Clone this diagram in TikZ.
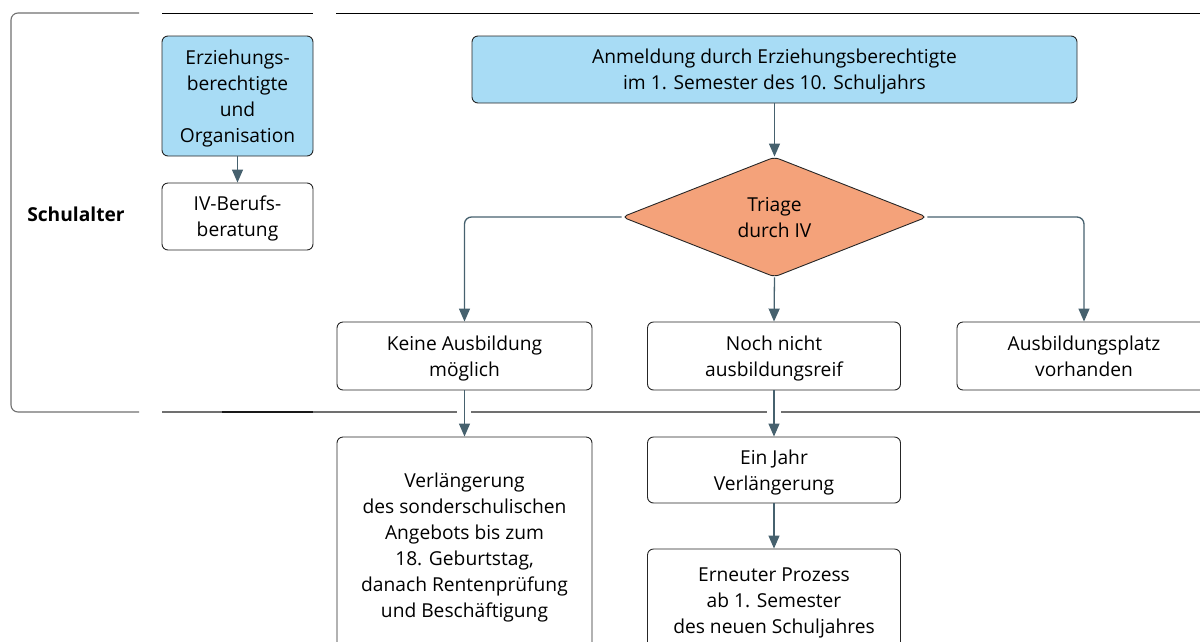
\documentclass[tikz,border=0pt]{standalone}
\usepackage{fontspec}
\setmainfont{Open Sans}
\usetikzlibrary{shapes.geometric,arrows.meta}
\definecolor{blueF}{HTML}{A8DCF5}
\definecolor{orangeF}{HTML}{F4A27A}
\definecolor{arrC}{HTML}{46616E}
\definecolor{frameC}{HTML}{707070}
\newcommand{\fs}{\fontsize{19.2}{26}\selectfont}
\tikzset{
  box/.style={draw=black!85, line width=0.9pt, rounded corners=6pt, fill=white,
    align=center, inner sep=0pt, font=\fs, anchor=center, text depth=-3.5pt},
  bluebox/.style={box, fill=blueF},
  decide/.style={diamond, draw=black!85, line width=0.9pt, fill=orangeF, rounded corners=5pt,
    align=center, inner sep=0pt, font=\fs, text depth=-3.5pt,
    minimum width=305pt, minimum height=120pt},
  arr/.style={draw=arrC, line width=1.3pt, -{Triangle[length=13pt,width=11pt]}},
  frame/.style={draw=frameC, line width=1.1pt},
  rule/.style={draw=black, line width=1pt},
}
\begin{document}
\begin{tikzpicture}[x=1pt,y=-1pt]
\useasboundingbox (0,0) rectangle (1200,641);

% band around the school-age part
\draw[frame, rounded corners=7pt] (139,13) -- (11,13) -- (11,412) -- (139,412);
\draw[rule] (162,13) -- (313,13);
\draw[rule] (336,13) -- (1200,13);
\draw[frame] (162,412) -- (457,412);
\draw[frame] (471,412) -- (767,412);
\draw[frame] (781,412) -- (1200,412);
\draw[draw=black!90, line width=1.2pt] (222,412) -- (313,412);

\node[font=\fs\bfseries] (sch) at (76,214) {Schulalter};

% left column
\node[bluebox, minimum width=151pt, minimum height=120pt] (eo) at (237.5,96)
  {Erziehungs-\\berechtigte\\und\\Organisation};
\node[box, minimum width=151pt, minimum height=67pt] (ivb) at (237.5,216.5)
  {IV-Berufs-\\beratung};

% main flow
\node[bluebox, minimum width=605pt, minimum height=67pt] (anm) at (774.5,69.5)
  {Anmeldung durch Erziehungsberechtigte\\im 1. Semester des 10. Schuljahrs};
\node[decide] (tri) at (774.5,217) {Triage\\durch IV};

\node[box, minimum width=255pt, minimum height=68pt] (kein) at (464.5,356)
  {Keine Ausbildung\\möglich};
\node[box, minimum width=253pt, minimum height=68pt] (noch) at (774,356)
  {Noch nicht\\ausbildungsreif};
\node[box, minimum width=254pt, minimum height=68pt] (ausp) at (1084,356)
  {Ausbildungsplatz\\vorhanden};

\node[box, minimum width=255pt, minimum height=216pt] (verl) at (464.5,545)
  {Verlängerung\\des sonderschulischen\\Angebots bis zum\\18. Geburtstag,\\danach Rentenprüfung\\und Beschäftigung};
\node[box, minimum width=253pt, minimum height=66pt] (ein) at (774,470)
  {Ein Jahr\\Verlängerung};
\node[box, minimum width=253pt, minimum height=104pt] (ern) at (774,601)
  {Erneuter Prozess\\ab 1. Semester\\des neuen Schuljahres};

% connectors
\draw[arr] (eo.south) -- (ivb.north);
\draw[arr] (anm.south) -- (tri.north);
\draw[arr, rounded corners=7pt] (tri.west) -| (kein.north);
\draw[arr, rounded corners=7pt] (tri.east) -| (ausp.north);
\draw[arr] (tri.south) -- (noch.north);
\draw[arr] (kein.south) -- (verl.north);
\draw[arr] (noch.south) -- (ein.north);
\draw[arr] (ein.south) -- (ern.north);
\end{tikzpicture}
\end{document}
